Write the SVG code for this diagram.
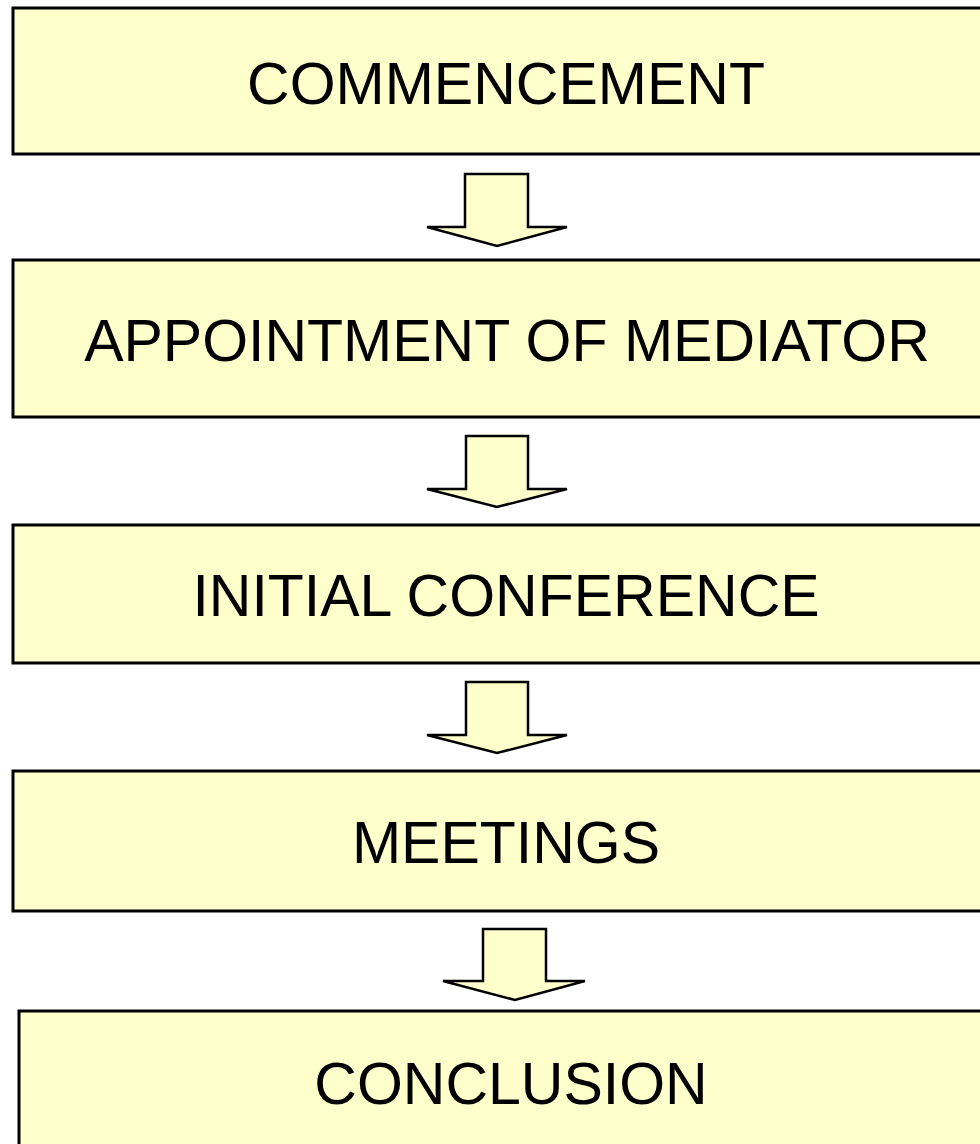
<svg xmlns="http://www.w3.org/2000/svg" width="980" height="1144" viewBox="0 0 980 1144">
<style>
.box{fill:#FFFFCC;stroke:#000;stroke-width:3}
.arr{fill:#FFFFCC;stroke:#000;stroke-width:2.5;stroke-linejoin:miter}
.lbl{font-family:"Liberation Sans",Arial,sans-serif;font-size:59px;fill:#000;text-anchor:middle}
</style>
<rect width="980" height="1144" fill="#fff"/>
<g id="connectors">
<polygon class="arr" points="465,174 528,174 528,227 567,227 497,246 427,227 465,227"/>
<polygon class="arr" points="466,436 528,436 528,489 567,489 497,507 427,489 466,489"/>
<polygon class="arr" points="466,682 528,682 528,735 567,735 497,753 427,735 466,735"/>
<polygon class="arr" points="483,929 546,929 546,981 585,981 515,1000 443,981 483,981"/>
</g>
<g id="commencement">
<rect class="box" x="13" y="8" width="990" height="146"/>
<text class="lbl" x="506" y="104">COMMENCEMENT</text>
</g>
<g id="appointment">
<rect class="box" x="13" y="260" width="990" height="157"/>
<text class="lbl" x="507" y="361">APPOINTMENT OF MEDIATOR</text>
</g>
<g id="initial-conference">
<rect class="box" x="13" y="525" width="990" height="138"/>
<text class="lbl" x="506" y="616">INITIAL CONFERENCE</text>
</g>
<g id="meetings">
<rect class="box" x="13" y="771" width="990" height="140"/>
<text class="lbl" x="506" y="863">MEETINGS</text>
</g>
<g id="conclusion">
<rect class="box" x="19" y="1011" width="990" height="160"/>
<text class="lbl" x="511" y="1104">CONCLUSION</text>
</g>
</svg>
